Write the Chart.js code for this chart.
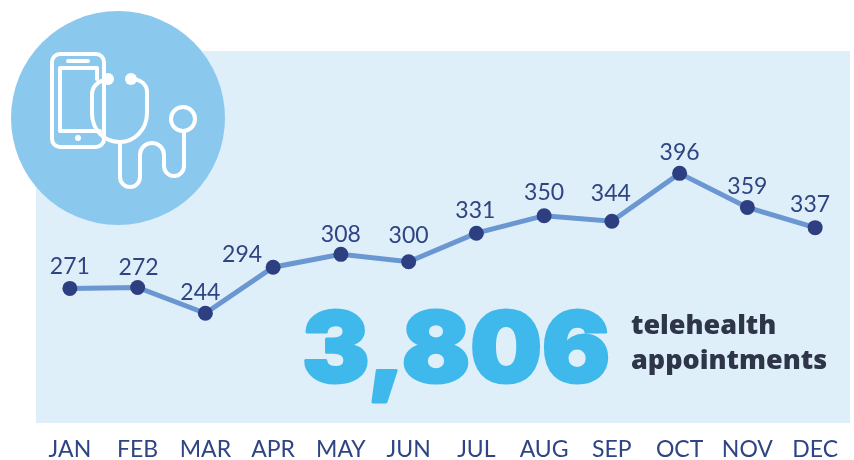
<!DOCTYPE html>
<html><head><meta charset="utf-8">
<style>html,body{margin:0;padding:0;background:#fff}#w{position:relative;width:854px;height:460px}canvas{display:block}</style>
<script src="https://cdn.jsdelivr.net/npm/chart.js@4"></script></head>
<body><div id="w"><canvas id="c" width="854" height="460"></canvas></div>
<script>
const months = ['JAN','FEB','MAR','APR','MAY','JUN','JUL','AUG','SEP','OCT','NOV','DEC'];
const appointments = [271,272,244,294,308,300,331,350,344,396,359,337];
const totalLabel = '3,806';
const captionLines = ['telehealth','appointments'];
// label offsets from each point, [dx, dy]
const labelOffsets = [[0,-22],[1,-20],[-5,-21],[-31,-13],[0,-20],[0,-26],[-1,-23],[0,-23],[-1,-28],[0,-21],[0,-21],[-5,-23]];
const DARK='#2f4482', LINE='#6a96d1', PANEL='#deeff9', CIRCLE='#8bc8ee', BIG='#3fb9ec', CAP='#2e3548';

const backdrop = { id:'backdrop', beforeDraw(ch){
  const a=ch.chartArea, g=ch.ctx; g.save(); g.fillStyle=PANEL;
  g.fillRect(a.left,a.top,a.right-a.left+1,a.bottom-a.top); g.restore(); }};

const overlay = { id:'overlay', afterDraw(ch){
  const g=ch.ctx; g.save();
  // total
  g.textBaseline='alphabetic'; g.textAlign='left';
  g.save(); g.translate(302,382); g.scale(1.04,1);
  g.font='900 97px Inter'; g.fillStyle=BIG; g.strokeStyle=BIG; g.lineWidth=3; g.lineJoin='round';
  g.strokeText(totalLabel,0,0); g.fillText(totalLabel,0,0); g.restore();
  g.font='800 27px "Open Sans"'; g.fillStyle=CAP;
  g.fillText(captionLines[0],631,334); g.fillText(captionLines[1],631,369);
  // value labels
  const m=ch.getDatasetMeta(0);
  g.font='23px Lato'; g.fillStyle=DARK; g.textAlign='center'; g.textBaseline='middle';
  m.data.forEach((p,i)=>g.fillText(String(appointments[i]),p.x+labelOffsets[i][0],p.y+labelOffsets[i][1]));
  // icon
  g.fillStyle=CIRCLE; g.beginPath(); g.arc(118,118,107,0,Math.PI*2); g.fill();
  g.strokeStyle='#fff'; g.fillStyle='#fff'; g.lineWidth=4; g.lineCap='round'; g.lineJoin='round';
  g.beginPath(); g.roundRect(52,54,52,93,8); g.stroke();
  g.beginPath(); g.moveTo(97,79); g.lineTo(97,68); g.lineTo(60,68); g.lineTo(60,131); g.lineTo(100,131); g.stroke();
  g.lineWidth=4; g.beginPath(); g.moveTo(68,61); g.lineTo(88,61); g.stroke();
  g.beginPath(); g.arc(78,138,3,0,Math.PI*2); g.fill();
  g.beginPath(); g.arc(108,79,6,0,Math.PI*2); g.fill();
  g.beginPath(); g.arc(131,79,6,0,Math.PI*2); g.fill();
  g.beginPath(); g.moveTo(108,79); g.bezierCurveTo(98,81,92,86,92,95); g.lineTo(92,113);
  g.bezierCurveTo(92,130,104,142,120,142); g.bezierCurveTo(134,142,147,130,147,113); g.lineTo(147,92);
  g.bezierCurveTo(147,84,140,79,131,79); g.stroke();
  g.beginPath(); g.moveTo(120,142); g.lineTo(120,177); g.arc(130,177,10,Math.PI,0,true); g.lineTo(140,155);
  g.arc(152,155,12,Math.PI,0,false); g.lineTo(164,166); g.arc(174,166,10,Math.PI,0,true); g.lineTo(184,132); g.stroke();
  g.beginPath(); g.arc(183,119,12,0,Math.PI*2); g.stroke();
  g.restore(); }};

new Chart(document.getElementById('c'),{
  type:'line',
  data:{labels:months,datasets:[{data:appointments,borderColor:LINE,borderWidth:5,tension:0,
    pointRadius:7.5,pointBackgroundColor:'#2d3f80',pointBorderWidth:0,pointHoverRadius:7.5,clip:false}]},
  plugins:[backdrop,overlay],
  options:{responsive:false,animation:false,events:[],
    layout:{autoPadding:false,padding:{left:36,right:5,top:51,bottom:0}},
    plugins:{legend:{display:false},tooltip:{enabled:false},title:{display:false}},
    scales:{
      x:{offset:true,grid:{display:false},border:{display:false},
        afterFit(s){s.height=37;s.paddingLeft=0;s.paddingRight=0;},
        ticks:{color:DARK,font:{family:'Lato',size:23},padding:5,maxRotation:0,autoSkip:false}},
      y:{display:false,min:124.7,max:529}
    }}
});
</script></body></html>
